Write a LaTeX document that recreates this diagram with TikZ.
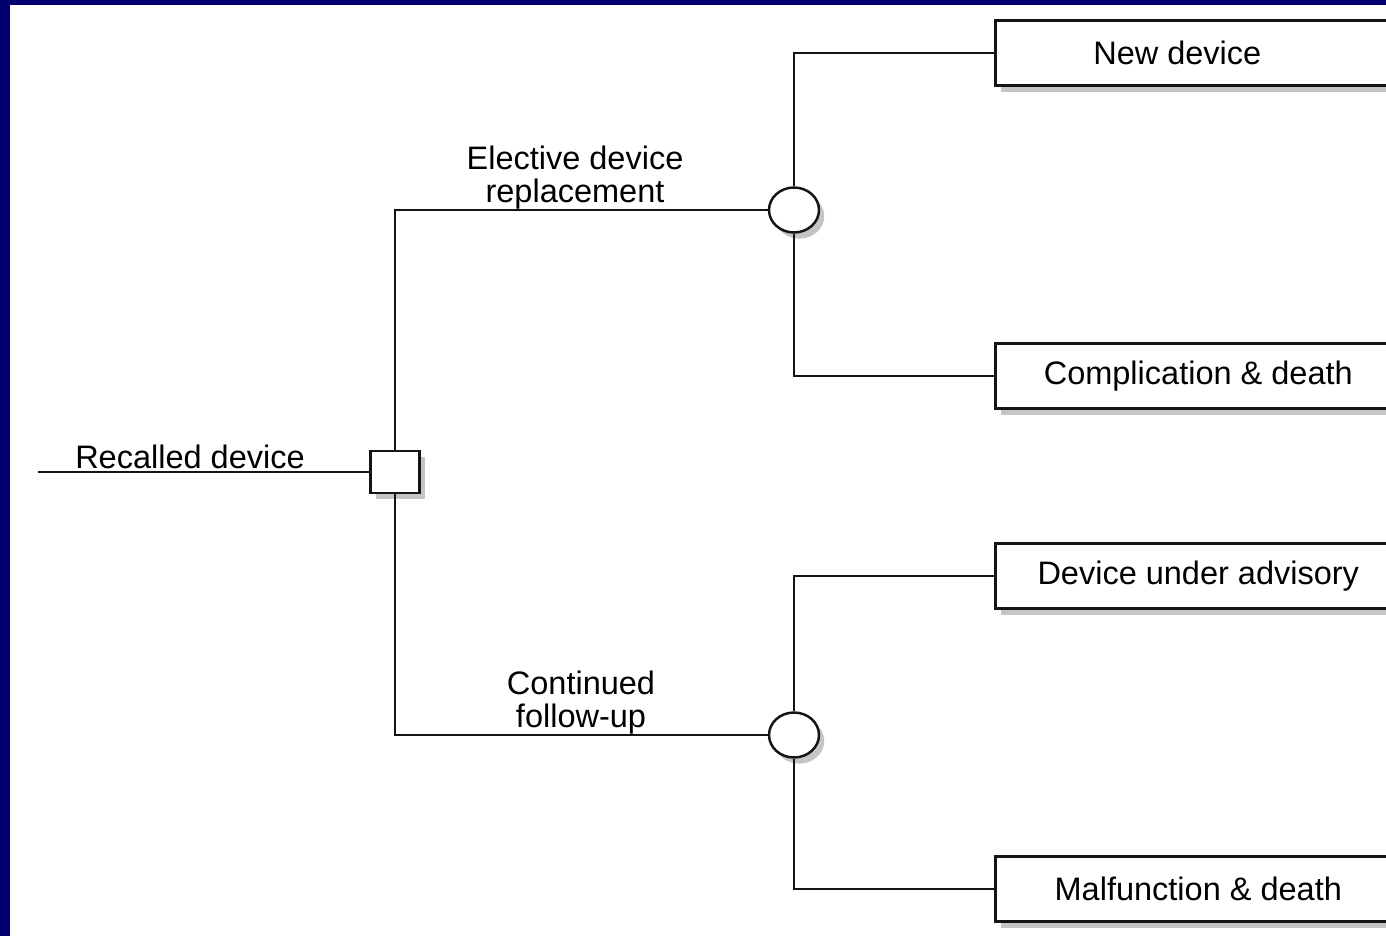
\documentclass[tikz,border=0pt]{standalone}
\usepackage{fontspec}
\setmainfont{Liberation Sans}
\usetikzlibrary{positioning, shapes.geometric, shadows}
\definecolor{mNavy}{HTML}{00006E}
\definecolor{mLine}{HTML}{141414}

\tikzset{
  softshadow/.style={drop shadow={shadow xshift=3pt, shadow yshift=-3.5pt, opacity=0.45}},
  decision/.style={draw=mLine, line width=1.4pt, fill=white, minimum width=0.98cm,
    minimum height=0.84cm, inner sep=0pt, softshadow},
  chance/.style={ellipse, draw=mLine, line width=1.4pt, fill=white, minimum width=1.0cm,
    minimum height=0.9cm, inner sep=0pt, softshadow},
  outcome/.style={draw=mLine, line width=1.5pt, fill=white, minimum width=8.12cm,
    minimum height=1.3cm, anchor=west, font=\fontsize{18.5}{19}\selectfont, softshadow},
  branch/.style={mLine, line width=1.2pt},
  blabel/.style={font=\fontsize{18.5}{19}\selectfont, align=center, anchor=south, inner sep=0pt}
}

\begin{document}
\begin{tikzpicture}[x=0.02cm, y=-0.02cm]
    % frame
    \useasboundingbox (0,0) rectangle (1386,936);
    \fill[mNavy] (0,0) rectangle (1386,936);
    \fill[white] (10,5) rectangle (1386,936);
    \clip (10,5) rectangle (1386,936);

    % tree nodes
    \coordinate (start) at (38,472);
    \node[decision] (dec) at (395,472) {};
    \node[chance] (top) at (794,210) {};
    \node[chance] (bot) at (794,735) {};

    \node[outcome] (newdev) at (994,53) {New device\rule{0.84cm}{0pt}};
    \node[outcome] (compl) at (994,376) {Complication \& death};
    \node[outcome] (advis) at (994,576) {Device under advisory};
    \node[outcome] (malf) at (994,889) {Malfunction \& death};

    % branches
    \draw[branch] (start) -- (dec.west);
    \draw[branch] (dec.north) |- (top.west);
    \draw[branch] (dec.south) |- (bot.west);
    \draw[branch] (top.north) |- (newdev.west);
    \draw[branch] (top.south) |- (compl.west);
    \draw[branch] (bot.north) |- (advis.west);
    \draw[branch] (bot.south) |- (malf.west);

    % branch labels
    \node[blabel] (lroot) at (190,469) {Recalled device};
    \node[blabel] (lrepl) at (575,210) {Elective device\\replacement};
    \node[blabel] (lfollow) at (581,735) {Continued\\follow-up};
\end{tikzpicture}
\end{document}
